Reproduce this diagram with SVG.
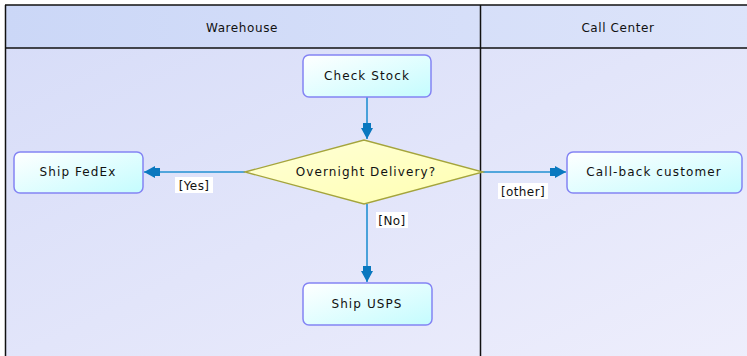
<svg xmlns="http://www.w3.org/2000/svg" width="747" height="356" viewBox="0 0 747 356">
<defs>
<linearGradient id="laneBg" x1="0" y1="0" x2="1" y2="1">
<stop offset="0" stop-color="#d6dcf8"/>
<stop offset="1" stop-color="#eeeefc"/>
</linearGradient>
<linearGradient id="headBg" x1="0" y1="0" x2="1" y2="0">
<stop offset="0" stop-color="#cbd7f7"/>
<stop offset="1" stop-color="#dde4fa"/>
</linearGradient>
<linearGradient id="nodeBg" x1="0" y1="0" x2="1" y2="1">
<stop offset="0" stop-color="#ffffff"/>
<stop offset="1" stop-color="#c4fcfe"/>
</linearGradient>
<linearGradient id="decBg" x1="0" y1="0" x2="1" y2="1">
<stop offset="0" stop-color="#ffffd8"/>
<stop offset="1" stop-color="#ffffb0"/>
</linearGradient>
<marker id="arr" viewBox="0 0 16 12" refX="16" refY="6" markerWidth="16" markerHeight="12" markerUnits="userSpaceOnUse" orient="auto">
<path d="M0,2 L5,2 L5,0 L16,6 L5,12 L5,10 L0,10 Z" fill="#0a78bf"/>
</marker>
<style>
.node{fill:url(#nodeBg);stroke:#8484f4;stroke-width:1.5}
.dec{fill:url(#decBg);stroke:#a4a43c;stroke-width:1.3}
.t{font-family:"DejaVu Sans",sans-serif;font-size:12px;fill:#111;text-anchor:middle;letter-spacing:1.1px}
.h{font-family:"DejaVu Sans",sans-serif;font-size:12px;fill:#111;text-anchor:middle;letter-spacing:0.6px}
.lbl{font-family:"DejaVu Sans",sans-serif;font-size:12px;fill:#111;text-anchor:middle;letter-spacing:0.4px}
.edge{stroke:#2290d2;stroke-width:1.6;fill:none;marker-end:url(#arr)}
.lane{stroke:#111;stroke-width:1.5}
</style>
</defs>
<rect x="0" y="0" width="747" height="356" fill="#ffffff"/>
<g id="lanes">
<rect x="5" y="5" width="750" height="360" fill="url(#laneBg)"/>
<rect x="5" y="5" width="750" height="43" fill="url(#headBg)"/>
<line class="lane" x1="5" y1="5" x2="747" y2="5"/>
<line class="lane" x1="5" y1="48" x2="747" y2="48"/>
<line class="lane" x1="5.5" y1="5" x2="5.5" y2="356"/>
<line class="lane" x1="480.5" y1="5" x2="480.5" y2="356"/>
<text class="h" x="242" y="32">Warehouse</text>
<text class="h" x="618" y="32">Call Center</text>
</g>
<g id="connectors">
<path class="edge" d="M367,97 L367,139"/>
<path class="edge" d="M245,172 L144,172"/>
<path class="edge" d="M483,172 L566,172"/>
<path class="edge" d="M367,204 L367,282"/>
<rect x="175" y="177" width="38" height="16" fill="#ffffff"/>
<text class="lbl" x="194" y="190">[Yes]</text>
<rect x="376" y="212" width="32" height="16" fill="#ffffff"/>
<text class="lbl" x="392" y="225">[No]</text>
<rect x="498" y="183" width="50" height="16" fill="#ffffff"/>
<text class="lbl" x="523" y="196">[other]</text>
</g>
<g id="check-stock">
<rect class="node" x="303" y="55" width="128" height="42" rx="6"/>
<text class="t" x="367" y="80">Check Stock</text>
</g>
<g id="overnight-delivery">
<polygon class="dec" points="245,172 364,140 483,172 364,204"/>
<text class="t" x="366" y="176">Overnight Delivery?</text>
</g>
<g id="ship-fedex">
<rect class="node" x="14" y="152" width="129" height="41" rx="6"/>
<text class="t" x="78" y="176">Ship FedEx</text>
</g>
<g id="call-back-customer">
<rect class="node" x="567" y="152" width="175" height="41" rx="6"/>
<text class="t" x="654" y="176">Call-back customer</text>
</g>
<g id="ship-usps">
<rect class="node" x="303" y="283" width="129" height="42" rx="6"/>
<text class="t" x="367" y="308">Ship USPS</text>
</g>
</svg>
